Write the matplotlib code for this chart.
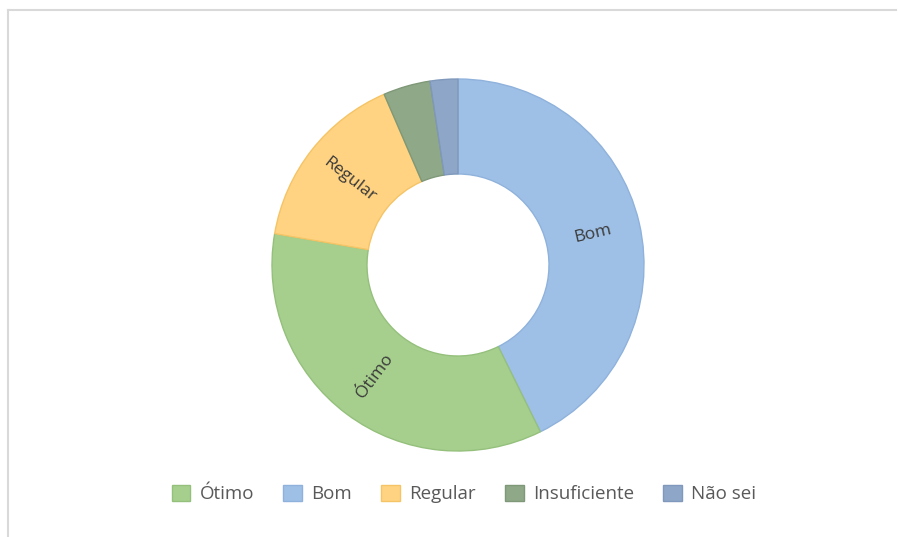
import numpy as np
import matplotlib
matplotlib.use('Agg')
import matplotlib.pyplot as plt
from matplotlib.patches import Patch

plt.rcParams['font.family'] = ['Open Sans', 'DejaVu Sans']

# slices in drawing order (clockwise from 12 o'clock)
slice_labels = ['Bom', 'Ótimo', 'Regular', 'Insuficiente', 'Não sei']
slice_values = [42.7, 35.0, 15.8, 4.1, 2.4]
slice_colors = ['#9fc0e6', '#a6cf8d', '#ffd381', '#8fa888', '#8ea6c8']
slice_edges = ['#8fb2dc', '#95c07c', '#f5c466', '#7f9878', '#7f98bb']
show_label = [True, True, True, False, False]

# legend order
legend_labels = ['Ótimo', 'Bom', 'Regular', 'Insuficiente', 'Não sei']

W, H = 898, 537
fig = plt.figure(figsize=(W / 100, H / 100), dpi=100)
ax = fig.add_axes([0, 0, 1, 1])

cx, cy = 458, H - 265
r_out, width = 186, 95

wedges, _ = ax.pie(slice_values, colors=slice_colors, startangle=90, counterclock=False,
                   center=(cx, cy), radius=r_out, frame=True,
                   wedgeprops=dict(width=width, linewidth=1))
for w, ec in zip(wedges, slice_edges):
    w.set_edgecolor(ec)
ax.set_xlim(0, W)
ax.set_ylim(0, H)
ax.set_aspect('equal')
ax.axis('off')

# labels inside the ring, oriented radially
r_mid = r_out - width / 2
for w, lab, show in zip(wedges, slice_labels, show_label):
    if not show:
        continue
    ang = (w.theta1 + w.theta2) / 2
    x = cx + r_mid * np.cos(np.radians(ang))
    y = cy + r_mid * np.sin(np.radians(ang))
    rot = ang
    while rot > 90:
        rot -= 180
    while rot < -90:
        rot += 180
    ax.text(x, y, lab, rotation=rot, rotation_mode='anchor', ha='center', va='center',
            fontsize=12.5, color='#3a3a3a')

# legend
lookup = dict(zip(slice_labels, zip(slice_colors, slice_edges)))
handles = [Patch(facecolor=lookup[l][0], edgecolor=lookup[l][1]) for l in legend_labels]
fig.legend(handles, legend_labels, loc='center', bbox_to_anchor=(464 / W, 1 - 494 / H),
           ncol=5, frameon=False, fontsize=13.5, labelcolor='#595959',
           handlelength=1.0, handleheight=1.0, handletextpad=0.5, columnspacing=1.55)

# chart border (top and left visible)
ax.plot([8, W - 2], [H - 10, H - 10], color='#d9d9d9', linewidth=1.5, clip_on=False)
ax.plot([8, 8], [0, H - 10], color='#d9d9d9', linewidth=1.5, clip_on=False)

fig.savefig('out.png', dpi=100)
